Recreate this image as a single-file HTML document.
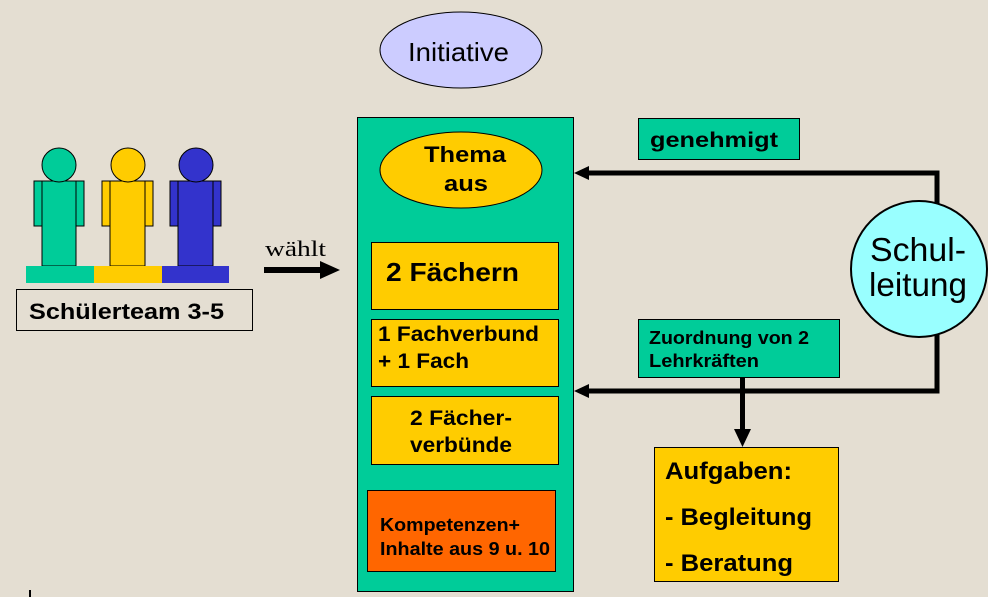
<!DOCTYPE html>
<html><head><meta charset="utf-8"><style>
html,body{margin:0;padding:0;background:#e4ded2;}
svg{display:block;}
text{font-family:"Liberation Sans",Arial,sans-serif;}
</style></head><body>
<svg width="988" height="597" viewBox="0 0 988 597" xmlns="http://www.w3.org/2000/svg">
<rect width="988" height="597" fill="#e4ded2"/>
<g stroke="#000" stroke-width="1">
<rect x="34" y="181" width="50" height="45" fill="#00cc99"/>
<rect x="42" y="181" width="34" height="85" fill="#00cc99"/>
<circle cx="59" cy="165" r="17" fill="#00cc99"/>
<rect x="102" y="181" width="51" height="45" fill="#ffcc00"/>
<rect x="110" y="181" width="35" height="85" fill="#ffcc00"/>
<circle cx="128" cy="165" r="17" fill="#ffcc00"/>
<rect x="170" y="181" width="51" height="45" fill="#3333cc"/>
<rect x="178" y="181" width="35" height="85" fill="#3333cc"/>
<circle cx="196" cy="165" r="17" fill="#3333cc"/>
</g>
<rect x="26" y="266" width="68" height="17" fill="#00cc99"/>
<rect x="94" y="266" width="68" height="17" fill="#ffcc00"/>
<rect x="162" y="266" width="67" height="17" fill="#3333cc"/>
<rect x="16.5" y="289.5" width="236" height="41" fill="#e4ded2" stroke="#000"/>
<text x="29" y="319" font-size="22" font-weight="bold" textLength="195" lengthAdjust="spacingAndGlyphs">Schülerteam 3-5</text>
<text x="265" y="256" font-size="22" style="font-family:'Liberation Serif',serif" textLength="61" lengthAdjust="spacingAndGlyphs">wählt</text>
<rect x="264" y="267" width="58" height="6" fill="#000"/>
<polygon points="320,261 340,270 320,279" fill="#000"/>
<ellipse cx="461" cy="50" rx="81" ry="38" fill="#ccccff" stroke="#000"/>
<text x="408" y="61" font-size="26" textLength="101" lengthAdjust="spacingAndGlyphs">Initiative</text>
<rect x="357.5" y="117.5" width="216" height="474" fill="#00cc99" stroke="#000"/>
<ellipse cx="461" cy="170" rx="81" ry="38" fill="#ffcc00" stroke="#000"/>
<text x="424" y="162" font-size="22" font-weight="bold" textLength="82" lengthAdjust="spacingAndGlyphs">Thema</text>
<text x="444" y="191" font-size="22" font-weight="bold" textLength="44" lengthAdjust="spacingAndGlyphs">aus</text>
<rect x="371.5" y="242.5" width="187" height="67" fill="#ffcc00" stroke="#000"/>
<text x="386" y="281" font-size="26" font-weight="bold" textLength="133" lengthAdjust="spacingAndGlyphs">2 Fächern</text>
<rect x="371.5" y="319.5" width="187" height="67" fill="#ffcc00" stroke="#000"/>
<text x="378" y="341" font-size="21" font-weight="bold" textLength="161" lengthAdjust="spacingAndGlyphs">1 Fachverbund</text>
<text x="378" y="368" font-size="21" font-weight="bold" textLength="91" lengthAdjust="spacingAndGlyphs">+ 1 Fach</text>
<rect x="371.5" y="396.5" width="187" height="68" fill="#ffcc00" stroke="#000"/>
<text x="410" y="425" font-size="21" font-weight="bold" textLength="102" lengthAdjust="spacingAndGlyphs">2 Fächer-</text>
<text x="410" y="452" font-size="21" font-weight="bold" textLength="102" lengthAdjust="spacingAndGlyphs">verbünde</text>
<rect x="367.5" y="490.5" width="188" height="81" fill="#ff6600" stroke="#000"/>
<text x="380" y="531" font-size="18" font-weight="bold" textLength="140" lengthAdjust="spacingAndGlyphs">Kompetenzen+</text>
<text x="380" y="555" font-size="18" font-weight="bold" textLength="170" lengthAdjust="spacingAndGlyphs">Inhalte aus 9 u. 10</text>
<rect x="638.5" y="118.5" width="161" height="41" fill="#00cc99" stroke="#000"/>
<text x="650" y="147" font-size="21" font-weight="bold" textLength="128" lengthAdjust="spacingAndGlyphs">genehmigt</text>
<polyline points="937,205 937,173 585,173" fill="none" stroke="#000" stroke-width="5"/>
<polygon points="574,173 589,166 589,180" fill="#000"/>
<polyline points="937,330 937,391 585,391" fill="none" stroke="#000" stroke-width="5"/>
<polygon points="574,391 589,384 589,398" fill="#000"/>
<circle cx="919" cy="269" r="68" fill="#99ffff" stroke="#000" stroke-width="2"/>
<text x="870" y="261" font-size="33" textLength="96" lengthAdjust="spacingAndGlyphs">Schul-</text>
<text x="869" y="296" font-size="33" textLength="98" lengthAdjust="spacingAndGlyphs">leitung</text>
<rect x="638.5" y="319.5" width="201" height="58" fill="#00cc99" stroke="#000"/>
<text x="649" y="344" font-size="18" font-weight="bold" textLength="160" lengthAdjust="spacingAndGlyphs">Zuordnung von 2</text>
<text x="649" y="367" font-size="18" font-weight="bold" textLength="110" lengthAdjust="spacingAndGlyphs">Lehrkräften</text>
<rect x="740" y="377" width="5" height="55" fill="#000"/>
<polygon points="734,429 751,429 742.5,447" fill="#000"/>
<rect x="654.5" y="447.5" width="184" height="134" fill="#ffcc00" stroke="#000"/>
<text x="665" y="479" font-size="24" font-weight="bold" textLength="127" lengthAdjust="spacingAndGlyphs">Aufgaben:</text>
<text x="665" y="525" font-size="24" font-weight="bold" textLength="147" lengthAdjust="spacingAndGlyphs">- Begleitung</text>
<text x="665" y="571" font-size="24" font-weight="bold" textLength="128" lengthAdjust="spacingAndGlyphs">- Beratung</text>
<rect x="29" y="590" width="2" height="7" fill="#000"/>
</svg>
</body></html>
